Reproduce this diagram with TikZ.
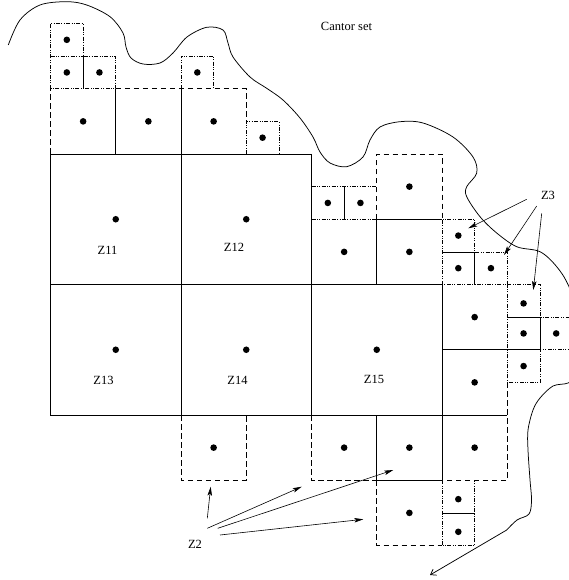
\documentclass[tikz,border=0pt]{standalone}
\usepackage{fontspec}
\setmainfont{Liberation Serif}
\usetikzlibrary{arrows.meta}
\tikzset{
  full/.style={line width=0.75pt},
  midbox/.style={line width=0.75pt, dash pattern=on 5.5pt off 3.5pt},
  smallbox/.style={line width=0.75pt, dash pattern=on 4pt off 1.5pt on 0.8pt off 1.5pt on 0.8pt off 1.5pt},
  lbl/.style={font=\fontsize{12.5}{14}\selectfont, inner sep=0pt},
  pointer/.style={line width=0.6pt, -{Stealth[length=9pt,width=4.5pt,inset=2pt]}},
}
\begin{document}
\begin{tikzpicture}[x=1pt,y=-1pt]
\useasboundingbox (0,0) rectangle (569,580);
\clip (0,0) rectangle (569,580);

% covering squares, measured in units of the smallest square
\begin{scope}[shift={(50.5,154)}, x=32.625pt, y=-32.625pt]
  % shared edges drawn solid
  \draw[full] (0,0) -- (8,0);
  \draw[full] (0,0) -- (0,8) -- (14,8);
  \draw[full] (4,0) -- (4,8);
  \draw[full] (8,0) -- (8,8);
  \draw[full] (0,4) -- (12,4);
  \draw[full] (12,4) -- (12,10);
  \draw[full] (2,-2) -- (2,0);
  \draw[full] (4,-2) -- (4,0);
  \draw[full] (1,-3) -- (1,-2);
  \draw[full] (9,1) -- (9,2);
  \draw[full] (10,2) -- (12,2);
  \draw[full] (10,2) -- (10,4);
  \draw[full] (12,3) -- (13,3) -- (13,4);
  \draw[full] (12,6) -- (15,6);
  \draw[full] (14,5) -- (15,5) -- (15,6);
  \draw[full] (10,8) -- (10,10) -- (12,10);
  \draw[full] (12,11) -- (13,11);

  % second-level squares (dashed outline)
  \draw[midbox] (0,0) -- (0,-2);
  \draw[midbox] (2,-2) -- (6,-2) -- (6,-1);
  \draw[midbox] (10,2) -- (10,0) -- (12,0) -- (12,2);
  \draw[midbox] (14,7) -- (14,10) -- (12,10);
  \draw[midbox] (4,8) -- (4,10) -- (6,10) -- (6,8);
  \draw[midbox] (8,8) -- (8,10) -- (10,10);
  \draw[midbox] (10,10) -- (10,12) -- (12,12);

  % third-level squares (dash-dot-dot outline)
  \draw[smallbox] (0,-2) -- (0,-4) -- (1,-4) -- (1,-3) -- (2,-3) -- (2,-2) -- cycle;
  \draw[smallbox] (0,-3) -- (1,-3);
  \draw[smallbox] (4,-2) -- (4,-3) -- (5,-3) -- (5,-2);
  \draw[smallbox] (6,0) -- (6,-1) -- (7,-1) -- (7,0);
  \draw[smallbox] (8,1) -- (10,1);
  \draw[smallbox] (8,2) -- (10,2);
  \draw[smallbox] (12,4) -- (12,2) -- (13,2) -- (13,3) -- (14,3) -- (14,4) -- cycle;
  \draw[smallbox] (14,4) -- (15,4) -- (15,5) -- (16,5) -- (16,6) -- (15,6) -- (15,7) -- (14,7) -- cycle;
  \draw[smallbox] (12,10) -- (12,12) -- (13,12) -- (13,10);

  % centres of the squares
  \foreach \cx/\cy in {2/2, 6/2, 2/6, 6/6, 10/6,
                  1/-1, 3/-1, 5/-1, 11/1, 9/3, 11/3, 13/5, 13/7,
                  5/9, 9/9, 11/9, 13/9, 11/11,
                  0.5/-3.5, 0.5/-2.5, 1.5/-2.5, 4.5/-2.5, 6.5/-0.5,
                  8.5/1.5, 9.5/1.5, 12.5/2.5, 12.5/3.5, 13.5/3.5,
                  14.5/4.58, 14.5/5.5, 15.5/5.5, 14.5/6.5,
                  12.5/10.58, 12.5/11.58}
    \fill (\cx,\cy) circle (3.3pt);
\end{scope}

% outline of the set
\draw[line width=0.75pt] plot[smooth, tension=0.55] coordinates {
  (8.3,45) (20,20) (40,5) (66.7,1.7) (86.7,5) (110,16.7) (123,33)
  (126,47) (131,58) (143,64) (160,63) (173,53) (187,37) (206.7,27.3)
  (223,30) (228,43) (233,57) (250,77) (266.7,88.3) (283,100) (300,118)
  (313,137) (320,152) (330,163) (346.7,166.7) (363,157) (370,140)
  (380,127) (400,121.7) (423,123) (453,137) (473,157) (476.7,173)
  (466.7,186.7) (466.7,196.7) (480,216.7) (496.7,233) (516.7,246.7)
  (540,251.7) (556.7,266.7) (569,286.7) (585,330) (575,375) (568,383)
  (553,386) (540,398) (533,410) (528,430) (528,450) (530,480)
  (531.5,500) (529,514) (517,520) (506.7,530)};
\coordinate (tail) at (506.7,530);
\coordinate (tip) at (430,575);
\draw[line width=0.75pt, -{Straight Barb[length=5pt,width=7pt]}] (tail) -- (tip);

% labels
\node[lbl] (cantor) at (346.5,26) {Cantor set};
\node[lbl] (z11) at (107.5,250) {Z11};
\node[lbl] (z12) at (234,247) {Z12};
\node[lbl] (z13) at (103.5,380) {Z13};
\node[lbl] (z14) at (237.5,380) {Z14};
\node[lbl] (z15) at (374,379.5) {Z15};
\node[lbl] (z2) at (195,544) {Z2};
\node[lbl] (z3) at (548,195) {Z3};

% pointers from Z3
\coordinate (s1) at (526.7,199.3);
\coordinate (s2) at (536.7,206);
\coordinate (s3) at (541.7,213.3);
\coordinate (a1) at (468.3,228.3);
\coordinate (a2) at (504,255);
\coordinate (a3) at (533.3,290);
\draw[pointer] (s1) -- (a1);
\draw[pointer] (s2) -- (a2);
\draw[pointer] (s3) -- (a3);

% pointers from Z2
\coordinate (t1) at (207.3,518.3);
\coordinate (t2) at (207.3,528.3);
\coordinate (t3) at (217.7,528.3);
\coordinate (t4) at (220,535);
\coordinate (b1) at (210.7,486.7);
\coordinate (b2) at (301.7,486.7);
\coordinate (b3) at (393.3,470);
\coordinate (b4) at (363.3,519.3);
\draw[pointer] (t1) -- (b1);
\draw[pointer] (t2) -- (b2);
\draw[pointer] (t3) -- (b3);
\draw[pointer] (t4) -- (b4);
\end{tikzpicture}
\end{document}
